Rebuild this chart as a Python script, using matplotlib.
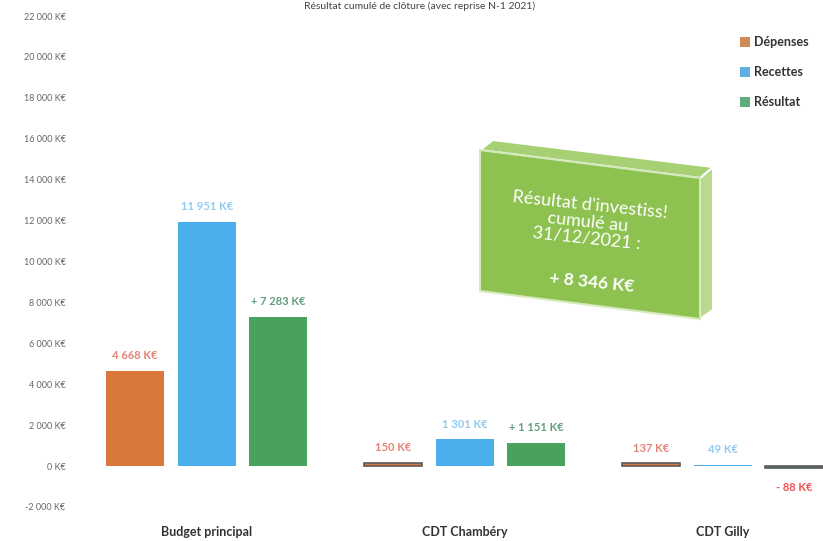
import numpy as np
import matplotlib
matplotlib.use("Agg")
import matplotlib.pyplot as plt
from matplotlib.patches import Patch, Polygon

plt.rcParams['font.family'] = ['Lato', 'DejaVu Sans']

categories = ["Budget principal", "CDT Chambéry", "CDT Gilly"]
series = ["Dépenses", "Recettes", "Résultat"]
depenses = [4668, 150, 137]
recettes = [11951, 1301, 49]
resultat = [7283, 1151, -88]
dep_labels = ["4 668 K€", "150 K€", "137 K€"]
rec_labels = ["11 951 K€", "1 301 K€", "49 K€"]
res_labels = ["+ 7 283 K€", "+ 1 151 K€", "- 88 K€"]
yticks = list(range(-2000, 22001, 2000))

bar_colors = ["#d8783c", "#4aaeea", "#48a25e"]
legend_colors = ["#cf8a58", "#5db0e2", "#62ad7c"]
label_colors = ["#e58277", "#8ecbef", "#5f9e7e"]
neg_color = "#ef5050"

W, H = 823, 541
fig = plt.figure(figsize=(W / 100, H / 100), dpi=100)
ax = fig.add_axes([78 / W, 1 - 507 / H, 1 - 78 / W, (507 - 16) / H])

x = np.arange(len(categories))
width = 0.225
offs = [-0.279, 0.0, 0.277]
data = [depenses, recettes, resultat]
labels = [dep_labels, rec_labels, res_labels]

for k in range(3):
    xs = x + offs[k]
    vals = data[k]
    for i in range(len(categories)):
        v = vals[i]
        thin = abs(v) < 200
        ax.bar(xs[i], v, width, color=bar_colors[k],
               edgecolor="#5a5a5a" if (thin and k != 1) else "none",
               linewidth=1.2 if thin else 0)
        col = label_colors[k]
        if v < 0:
            col = neg_color
            ax.annotate(labels[k][i], (xs[i], v), xytext=(0, -10),
                        textcoords="offset points", ha="center", va="top",
                        color=col, fontsize=8, fontweight="bold")
        else:
            ax.annotate(labels[k][i], (xs[i], v), xytext=(0, 7),
                        textcoords="offset points", ha="center", va="bottom",
                        color=col, fontsize=8, fontweight="bold")

ax.set_xlim(-0.5, 2.5 - 29 / 258)
ax.set_ylim(-2000, 22000)
ax.set_yticks(yticks)
ax.set_yticklabels([(f"{t:,}".replace(",", " ") + " K€") for t in yticks])
ax.set_xticks(x)
ax.set_xticklabels(categories)
ax.tick_params(axis="y", length=0, pad=9, labelsize=6.5, labelcolor="#666666")
ax.tick_params(axis="x", length=0, pad=14, labelsize=9, labelcolor="#333333")
for lab in ax.get_xticklabels():
    lab.set_fontweight("bold")
for s in ax.spines.values():
    s.set_visible(False)

handles = [Patch(facecolor=c, edgecolor="none", label=s) for c, s in zip(legend_colors, series)]
leg = fig.legend(handles=handles, loc="upper right", bbox_to_anchor=(820 / W, 1 - 25 / H),
                 frameon=False, handlelength=0.8, handleheight=0.8, handletextpad=0.3,
                 labelspacing=1.45, fontsize=9)
for t in leg.get_texts():
    t.set_fontweight("bold")
    t.set_color("#333333")

# title (cut at the top in the original)
fig.text(0.51, 1 - 1 / H, "Résultat cumulé de clôture (avec reprise N-1 2021)",
         ha="center", va="top", fontsize=7.5, color="#444444")

# green 3D-like callout box
def px(pts):
    return [(a / W, 1 - b / H) for a, b in pts]

side = Polygon(px([(700, 178), (713, 167), (713, 310), (700, 319)]), closed=True,
               transform=fig.transFigure, facecolor="#b9d98e", edgecolor="white", linewidth=1.5)
top = Polygon(px([(480, 150), (493, 140), (713, 167), (700, 178)]), closed=True,
              transform=fig.transFigure, facecolor="#a7cf74", edgecolor="white", linewidth=1.5)
face = Polygon(px([(480, 150), (700, 178), (700, 319), (480, 291)]), closed=True,
               transform=fig.transFigure, facecolor="#8dc150", edgecolor="#d6e9bd", linewidth=1.5)
fig.patches.extend([side, top, face])
fig.text(588 / W, 1 - 222 / H, "Résultat d'investiss!\ncumulé au\n31/12/2021 :",
         ha="center", va="center", fontsize=13, color="white", rotation=-6,
         linespacing=1.05)
fig.text(592 / W, 1 - 282 / H, "+ 8 346 K€", ha="center", va="center", fontsize=12.5,
         color="white", fontweight="bold", rotation=-6)

fig.savefig("out.png", dpi=100)
